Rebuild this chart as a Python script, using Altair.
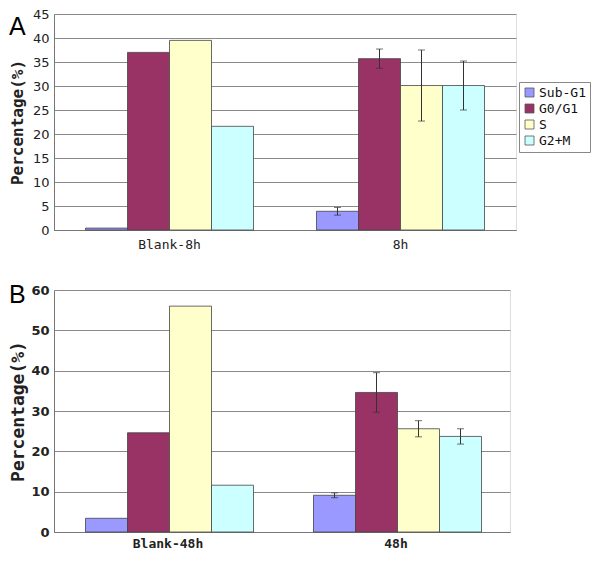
import altair as alt
import pandas as pd

phases = ["Sub-G1", "G0/G1", "S", "G2+M"]
phase_colors = ["#9999FF", "#993366", "#FFFFCC", "#CCFFFF"]

groups_a = ["Blank-8h", "8h"]
blank_8h = [0.4, 37.0, 39.5, 21.6]
treat_8h = [3.9, 35.7, 30.1, 30.1]
err_8h = [0.8, 2.0, 7.4, 5.1]

groups_b = ["Blank-48h", "48h"]
blank_48h = [3.4, 24.6, 56.0, 11.6]
treat_48h = [9.1, 34.6, 25.6, 23.7]
err_48h = [0.6, 4.9, 2.0, 1.9]

y_ticks_a = [0, 5, 10, 15, 20, 25, 30, 35, 40, 45]
y_ticks_b = [0, 10, 20, 30, 40, 50, 60]

MONO = "DejaVu Sans Mono"
SANS = "DejaVu Sans"


def panel(letter, groups, blank, treat, err, yticks, width, height, bold,
          title_size, title_x, legend_x, legend_y, legend_font, legend_row_pad,
          letter_offset, xlabel_pad):
    weight = "bold" if bold else "normal"
    bars = pd.DataFrame({
        "group": [groups[0]] * 4 + [groups[1]] * 4,
        "phase": phases * 2,
        "value": blank + treat,
    })
    errs = pd.DataFrame({
        "group": [groups[1]] * 4,
        "phase": phases,
        "lo": [v - e for v, e in zip(treat, err)],
        "hi": [v + e for v, e in zip(treat, err)],
    })
    x_axis = alt.Axis(title=None, labelAngle=0, ticks=False, tickSize=0,
                      labelPadding=xlabel_pad, labelFont=MONO, labelFontSize=13,
                      labelFontWeight=weight, labelColor="#222",
                      domainColor="#777", grid=False)
    x_scale = alt.Scale(paddingInner=0, paddingOuter=0)
    xo_scale = alt.Scale(paddingInner=0, paddingOuter=0.75)
    y_scale = alt.Scale(domain=[yticks[0], yticks[-1]], nice=False)
    y_axis = alt.Axis(values=yticks, tickCount=len(yticks), labelOverlap=False,
                      title="Percentage(%)", ticks=False,
                      tickSize=0, labelPadding=5, labelFont=SANS,
                      labelFontSize=13, labelFontWeight=weight,
                      labelColor="#222", domainColor="#777",
                      gridColor="#8a8a8a", gridWidth=1,
                      titleFont=MONO, titleFontSize=title_size,
                      titleFontWeight="bold", titleColor="#222",
                      titleX=title_x, titleY=height / 2)

    def xenc():
        return alt.X("group:N", sort=groups, scale=x_scale, axis=x_axis)

    def xoenc():
        return alt.XOffset("phase:N", sort=phases, scale=xo_scale)

    color = alt.Color("phase:N", sort=phases,
                      scale=alt.Scale(domain=phases, range=phase_colors),
                      legend=alt.Legend(title=None, orient="none",
                                        legendX=legend_x, legendY=legend_y,
                                        symbolType="square", symbolSize=81,
                                        symbolStrokeColor="#555",
                                        symbolStrokeWidth=0.8,
                                        labelFont=MONO, labelFontSize=legend_font,
                                        labelFontWeight=weight, labelColor="#111",
                                        strokeColor="#888", fillColor="white",
                                        padding=4, rowPadding=legend_row_pad,
                                        labelOffset=3))
    bar_layer = alt.Chart(bars).mark_bar(stroke="#444", strokeWidth=0.8).encode(
        x=xenc(), xOffset=xoenc(),
        y=alt.Y("value:Q", scale=y_scale, axis=y_axis),
        color=color)
    rule_layer = alt.Chart(errs).mark_rule(color="#333", strokeWidth=1).encode(
        x=xenc(), xOffset=xoenc(),
        y=alt.Y("lo:Q", scale=y_scale, axis=y_axis), y2="hi:Q")
    cap_hi = alt.Chart(errs).mark_tick(color="#333", size=7, thickness=1).encode(
        x=xenc(), xOffset=xoenc(),
        y=alt.Y("hi:Q", scale=y_scale, axis=y_axis))
    cap_lo = alt.Chart(errs).mark_tick(color="#333", size=7, thickness=1).encode(
        x=xenc(), xOffset=xoenc(),
        y=alt.Y("lo:Q", scale=y_scale, axis=y_axis))
    return alt.layer(bar_layer, rule_layer, cap_hi, cap_lo).properties(
        width=width, height=height,
        title=alt.Title(letter, anchor="start", frame="bounds",
                        font="Liberation Sans", fontSize=25,
                        fontWeight="normal", color="#000", offset=letter_offset))


panel_a = panel("A", groups_a, blank_8h, treat_8h, err_8h, y_ticks_a,
                462, 216, False, 16, -29, 465, 68, 13, 2, -32, 8)
panel_b = panel("B", groups_b, blank_48h, treat_48h, err_48h, y_ticks_b,
                456, 242, True, 18, -27, 460, 87, 13, 4, -24, 5)

chart = alt.vconcat(panel_a, panel_b, spacing=30).properties(
    padding={"left": 0, "right": 0, "top": -1, "bottom": 0}
).configure_view(stroke="#c8c8c8", strokeWidth=1).configure(background="white")

chart.save("out.html", embed_options={"renderer": "svg", "actions": False})
